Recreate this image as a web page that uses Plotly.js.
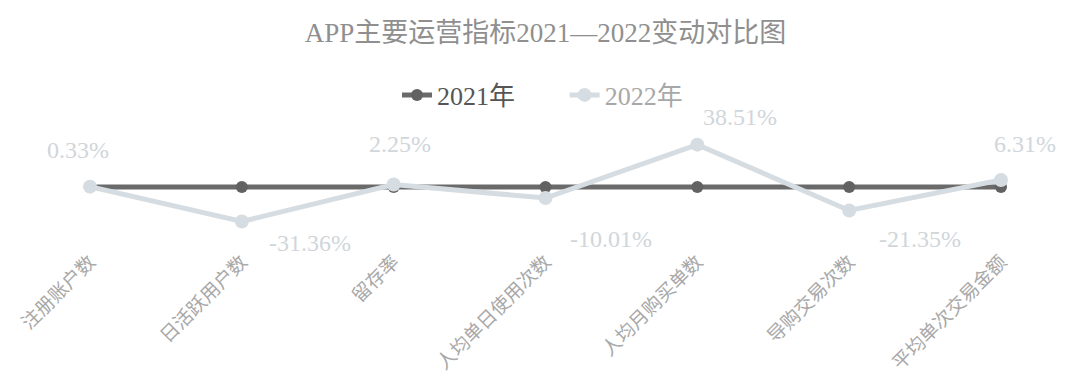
<!DOCTYPE html>
<html><head><meta charset="utf-8">
<script src="https://cdn.plot.ly/plotly-3.0.1.min.js"></script>
<style>html,body{margin:0;padding:0;background:#fff}#chart{width:1069px;height:380px}</style>
</head><body><div id="chart"></div>
<script>
const categories = ["注册账户数","日活跃用户数","留存率","人均单日使用次数","人均月购买单数","导购交易次数","平均单次交易金额"];
const values2021 = [0, 0, 0, 0, 0, 0, 0];
const values2022 = [0.33, -31.36, 2.25, -10.01, 38.51, -21.35, 6.31];
const labels2022 = ["0.33%","-31.36%","2.25%","-10.01%","38.51%","-21.35%","6.31%"];

const FONT = "Liberation Serif, Times New Roman, Noto Sans CJK SC, serif";
const labelXShift = [-12, 68, 6, 65, 43, 71, 24];
const labelYShift = [37, -21, 41, -41, 28, -28, 36];

const traces = [
  {x: categories, y: values2021, name: "2021年", type: "scatter", mode: "lines+markers",
   line: {color: "#6a6a6a", width: 5}, marker: {color: "#626262", size: 12},
   cliponaxis: false, legend: "legend"},
  {x: categories, y: values2022, name: "2022年", type: "scatter", mode: "lines+markers",
   line: {color: "#d6dde2", width: 5}, marker: {color: "#d6dde2", size: 14},
   cliponaxis: false, legend: "legend2"}
];

const annotations = categories.map((c, i) => ({
  x: c, y: values2022[i], text: labels2022[i], showarrow: false,
  xshift: labelXShift[i], yshift: labelYShift[i],
  font: {family: FONT, size: 24, color: "#d0d6da"}
}));

const layout = {
  width: 1069, height: 380,
  margin: {l: 90, r: 68, t: 120, b: 125},
  paper_bgcolor: "#fff", plot_bgcolor: "#fff",
  title: {text: "APP主要运营指标2021—2022变动对比图", x: 0.5, xref: "paper", y: 0.915, yanchor: "middle",
          font: {family: FONT, size: 27, color: "#8f8f8f"}},
  xaxis: {type: "category", range: [0, 6], showgrid: false, zeroline: false, showline: false,
          ticks: "", tickangle: -45, ticklabelstandoff: -9,
          tickfont: {family: FONT, size: 19, color: "#a8a8a8"}},
  yaxis: {range: [-61.8, 60.9], visible: false, showgrid: false, zeroline: false},
  showlegend: true,
  legend: {orientation: "h", x: 0.337, xanchor: "left", y: 1.185, yanchor: "middle",
           font: {family: FONT, size: 26, color: "#555"}, bgcolor: "rgba(0,0,0,0)"},
  legend2: {orientation: "h", x: 0.521, xanchor: "left", y: 1.185, yanchor: "middle",
           font: {family: FONT, size: 26, color: "#a8a8a8"}, bgcolor: "rgba(0,0,0,0)"},
  annotations: annotations
};

Plotly.newPlot("chart", traces, layout, {displayModeBar: false, staticPlot: true});
</script></body></html>
